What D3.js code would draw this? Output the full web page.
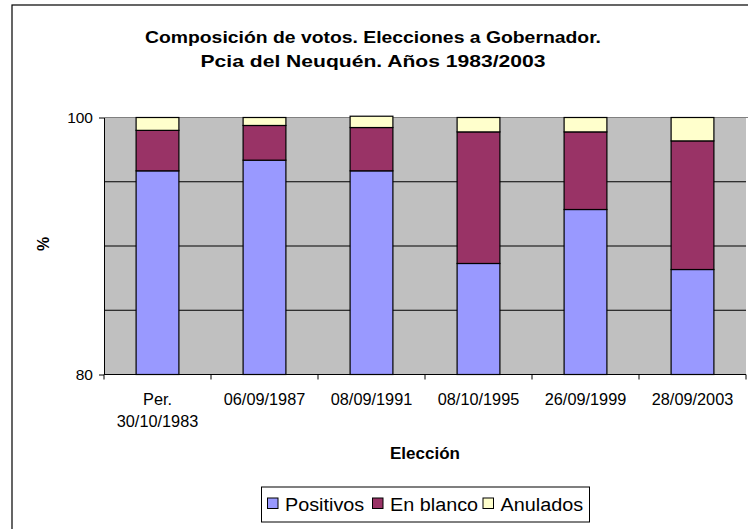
<!DOCTYPE html>
<html>
<head>
<meta charset="utf-8">
<script src="https://cdn.jsdelivr.net/npm/d3@7/dist/d3.min.js"></script>
<style>
  html, body { margin: 0; padding: 0; background: #fff; }
  svg { display: block; font-family: "Liberation Sans", Arial, sans-serif; }
</style>
</head>
<body>
<svg id="chart" width="748" height="529"></svg>
<script>
// ---- data ----
const categories = [["Per.", "30/10/1983"], ["06/09/1987"], ["08/09/1991"], ["08/10/1995"], ["26/09/1999"], ["28/09/2003"]];
const seriesNames = ["Positivos", "En blanco", "Anulados"];
const positivos = [95.85, 96.68, 95.85, 88.64, 92.84, 88.17];
const enBlanco  = [3.15, 2.70, 3.37, 10.24, 6.04, 10.01];
const anulados  = [1.00, 0.62, 0.88, 1.12, 1.12, 1.82];
const yTickLabels = [80, 100];
const yGridValues = [85, 90, 95];
const titleLines = ["Composición de votos. Elecciones a Gobernador.", "Pcia del Neuquén. Años 1983/2003"];
const xTitle = "Elección";
const yTitle = "%";

// ---- layout ----
const colors = ["#9999FF", "#993366", "#FFFFCC"];
const titleStretch = [1.12, 1.22];
const svg = d3.select("#chart");
const plot = { left: 104, right: 746, top: 117.5, bottom: 374.5 };

function stretch(sel, f) {
  sel.each(function (d, i) {
    const w = this.getComputedTextLength();
    const k = typeof f === "function" ? f(d, i) : f;
    d3.select(this).attr("textLength", w * k).attr("lengthAdjust", "spacingAndGlyphs");
  });
}

// chart frame
svg.append("rect").attr("x", 12).attr("y", 5).attr("width", 800).attr("height", 600)
  .attr("fill", "#fff").attr("stroke", "#000").attr("stroke-width", 1.2);

const x = d3.scaleBand().domain(d3.range(categories.length))
  .range([plot.left, plot.right]).paddingInner(0.6).paddingOuter(0.3);
const y = d3.scaleLinear().domain([80, 100]).range([plot.bottom, plot.top]);

// plot area
svg.append("rect").attr("x", plot.left).attr("y", plot.top)
  .attr("width", plot.right - plot.left).attr("height", plot.bottom - plot.top)
  .attr("fill", "#C0C0C0");
svg.append("line").attr("x1", plot.left).attr("x2", plot.right + 2)
  .attr("y1", plot.top).attr("y2", plot.top).attr("stroke", "#808080").attr("stroke-width", 1);

// gridlines
svg.append("g").selectAll("line").data(yGridValues).join("line")
  .attr("x1", plot.left).attr("x2", plot.right)
  .attr("y1", d => y(d)).attr("y2", d => y(d))
  .attr("stroke", "#000").attr("stroke-width", 1);

// stacked bars
const rows = categories.map((c, i) => ({ i, Positivos: positivos[i], "En blanco": enBlanco[i], Anulados: anulados[i] }));
const stack = d3.stack().keys(seriesNames)(rows);
svg.append("g").selectAll("g").data(stack).join("g")
  .attr("fill", (d, k) => colors[k])
  .selectAll("rect").data(d => d).join("rect")
  .attr("x", d => x(d.data.i))
  .attr("width", x.bandwidth())
  .attr("y", d => y(Math.max(80, d[1])))
  .attr("height", d => y(Math.max(80, d[0])) - y(Math.max(80, d[1])))
  .attr("stroke", "#000").attr("stroke-width", 1.2);

// y axis
const yAxis = d3.axisLeft(y).tickValues(yTickLabels).tickSize(5).tickPadding(6).tickSizeOuter(0);
const gy = svg.append("g").attr("transform", `translate(${plot.left},0)`).call(yAxis);
gy.select(".domain").attr("stroke", "#000");
gy.selectAll("text").attr("font-size", 15.5).attr("fill", "#000");

// x axis
const edges = d3.range(categories.length + 1).map(k => plot.left + k * x.step());
const gx = svg.append("g");
gx.append("line").attr("x1", plot.left).attr("x2", plot.right)
  .attr("y1", plot.bottom).attr("y2", plot.bottom).attr("stroke", "#000");
gx.selectAll("line.tick").data(edges).join("line").attr("class", "tick")
  .attr("x1", d => d).attr("x2", d => d)
  .attr("y1", plot.bottom).attr("y2", plot.bottom + 5).attr("stroke", "#000");
gx.selectAll("text").data(categories).join("text")
  .attr("text-anchor", "middle").attr("font-size", 16.3)
  .attr("x", (d, i) => x(i) + x.bandwidth() / 2)
  .attr("y", 404.5)
  .selectAll("tspan").data(d => d).join("tspan")
  .attr("x", function () { return d3.select(this.parentNode).attr("x"); })
  .attr("dy", (d, j) => j === 0 ? 0 : 22)
  .text(d => d);

// titles
svg.append("g").selectAll("text").data(titleLines).join("text")
  .attr("x", 373).attr("y", (d, i) => 43 + i * 23.5)
  .attr("text-anchor", "middle").attr("font-weight", "bold").attr("font-size", 17.3)
  .text(d => d)
  .call(stretch, (d, i) => titleStretch[i]);
svg.append("text").attr("x", (plot.left + plot.right) / 2).attr("y", 459)
  .attr("text-anchor", "middle").attr("font-weight", "bold").attr("font-size", 17)
  .text(xTitle);
svg.append("text").attr("transform", `translate(49,${(plot.top + plot.bottom) / 2 - 2}) rotate(-90)`)
  .attr("text-anchor", "middle").attr("font-weight", "bold").attr("font-size", 16)
  .text(yTitle);

// legend
const lg = svg.append("g");
lg.append("rect").attr("x", 261.5).attr("y", 487).attr("width", 328).attr("height", 35)
  .attr("fill", "#fff").attr("stroke", "#000").attr("stroke-width", 1);
const legendX = [267.5, 372.5, 483];
const items = lg.selectAll("g.item").data(seriesNames).join("g").attr("class", "item")
  .attr("transform", (d, i) => `translate(${legendX[i]},498)`);
items.append("rect").attr("width", 10.5).attr("height", 10.5)
  .attr("fill", (d, i) => colors[i]).attr("stroke", "#000").attr("stroke-width", 1);
items.append("text").attr("x", 17.5).attr("y", 12.5).attr("font-size", 18).text(d => d)
  .call(stretch, 1.1);
</script>
</body>
</html>
